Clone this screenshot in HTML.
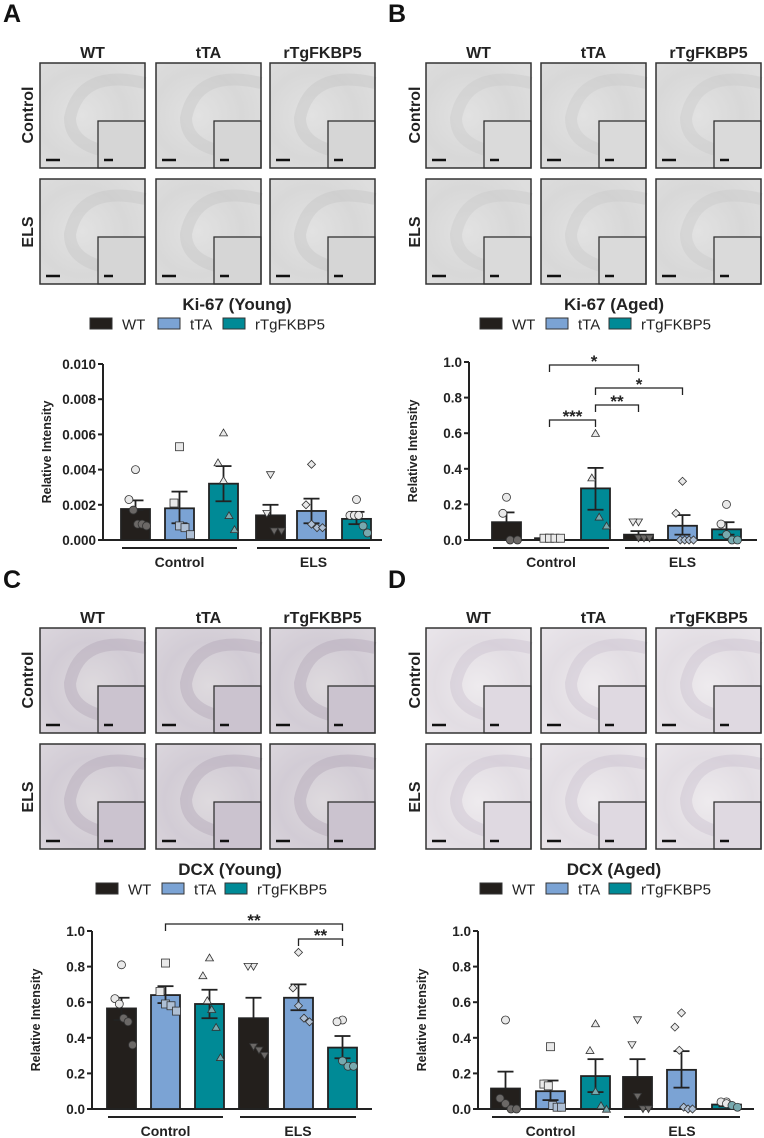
<!DOCTYPE html>
<html><head><meta charset="utf-8">
<style>
html,body{margin:0;padding:0;background:#fff;}
svg{display:block;font-family:"Liberation Sans",Arial,sans-serif;}
</style></head>
<body>
<svg id="fig" xmlns="http://www.w3.org/2000/svg" width="764" height="1138" viewBox="0 0 764 1138">
<defs>
<radialGradient id="gKi" cx="0.4" cy="0.5" r="0.7"><stop offset="0" stop-color="#e2e2e2"/><stop offset="0.6" stop-color="#d8d8d8"/><stop offset="1" stop-color="#dedede"/></radialGradient>
<radialGradient id="gDc" cx="0.5" cy="0.55" r="0.7"><stop offset="0" stop-color="#dedade"/><stop offset="0.6" stop-color="#d2ccd5"/><stop offset="1" stop-color="#dad5dc"/></radialGradient>
<radialGradient id="gDa" cx="0.5" cy="0.55" r="0.7"><stop offset="0" stop-color="#eeebee"/><stop offset="0.6" stop-color="#e2dde3"/><stop offset="1" stop-color="#e9e5ea"/></radialGradient>
</defs>
<g id="root"></g>
</svg>
<script>
// ---------- Chart data ----------
// Panel A: Ki-67 (Young)
const aMeans = [0.00176, 0.0018, 0.0032, 0.0014, 0.00165, 0.0012];
const aErrLo = [0.0017, 0.00095, 0.0022, 0.0014, 0.00095, 0.0009];
const aErrHi = [0.00225, 0.00275, 0.0042, 0.002, 0.00235, 0.0016];
const aPts0 = [0.004, 0.0023, 0.0017, 0.0009, 0.0009, 0.0008];
const aPts1 = [0.0053, 0.0021, 0.0008, 0.0007, 0.0003];
const aPts2 = [0.0061, 0.0044, 0.0034, 0.0014, 0.0006];
const aPts3 = [0.0037, 0.0015, 0.0005, 0.0005];
const aPts4 = [0.0043, 0.002, 0.0009, 0.0007, 0.0007];
const aPts5 = [0.0023, 0.0014, 0.0014, 0.0014, 0.0008, 0.0004];
const aTicks = ["0.000","0.002","0.004","0.006","0.008","0.010"];
// Panel B: Ki-67 (Aged)
const bMeans = [0.10, 0.01, 0.29, 0.03, 0.08, 0.06];
const bErrLo = [0.10, 0.01, 0.17, 0.03, 0.03, 0.03];
const bErrHi = [0.155, 0.012, 0.405, 0.05, 0.14, 0.10];
const bPts0 = [0.24, 0.15, 0.0, 0.0];
const bPts1 = [0.01, 0.01, 0.01, 0.01, 0.01];
const bPts2 = [0.6, 0.35, 0.13, 0.08];
const bPts3 = [0.10, 0.10, 0.01, 0.01, 0.01];
const bPts4 = [0.33, 0.15, 0.0, 0.0, 0.0, 0.0];
const bPts5 = [0.2, 0.09, 0.03, 0.0, 0.0];
const bTicks = ["0.0","0.2","0.4","0.6","0.8","1.0"];
// Panel C: DCX (Young)
const cMeans = [0.565, 0.64, 0.59, 0.51, 0.625, 0.345];
const cErrLo = [0.50, 0.595, 0.51, 0.51, 0.555, 0.285];
const cErrHi = [0.625, 0.69, 0.67, 0.625, 0.70, 0.41];
const cPts0 = [0.81, 0.62, 0.59, 0.51, 0.49, 0.36];
const cPts1 = [0.82, 0.66, 0.59, 0.58, 0.55];
const cPts2 = [0.85, 0.75, 0.61, 0.56, 0.46, 0.29];
const cPts3 = [0.80, 0.80, 0.35, 0.33, 0.30];
const cPts4 = [0.88, 0.68, 0.58, 0.51, 0.49];
const cPts5 = [0.50, 0.49, 0.27, 0.24, 0.24];
// Panel D: DCX (Aged)
const dMeans = [0.115, 0.10, 0.185, 0.18, 0.22, 0.025];
const dErrLo = [0.115, 0.05, 0.095, 0.18, 0.12, 0.015];
const dErrHi = [0.21, 0.16, 0.28, 0.28, 0.325, 0.035];
const dPts0 = [0.5, 0.06, 0.03, 0.0, 0.0];
const dPts1 = [0.35, 0.14, 0.13, 0.02, 0.01, 0.01];
const dPts2 = [0.48, 0.33, 0.10, 0.02, 0.0];
const dPts3 = [0.5, 0.36, 0.07, 0.0, 0.0];
const dPts4 = [0.54, 0.46, 0.33, 0.01, 0.0, 0.0];
const dPts5 = [0.04, 0.04, 0.03, 0.02, 0.01];
const genotypes = ["WT","tTA","rTgFKBP5"];
const groups = ["Control","ELS"];

const NS="http://www.w3.org/2000/svg";
const root=document.getElementById('root');
function mk(tag,attrs,parent,text){const e=document.createElementNS(NS,tag);for(const k in attrs)e.setAttribute(k,attrs[k]);if(text!==undefined)e.textContent=text;(parent||root).appendChild(e);return e;}

const fills=["#231f1c","#7ba3d4","#008a96"];
const inFill=["#6b6866","#aebfd4","#77a9ae"];
const shapes=["circle","square","tri","tri","diamond","circle"];
const triDown=[false,false,false,true,false,false];

function marker(g,shape,down,cx,cy,fill){
  const s=4;
  let e;
  if(shape==="circle") e=mk('circle',{cx:cx,cy:cy,r:s,fill:fill,stroke:'#333','stroke-width':0.8},g);
  else if(shape==="square") e=mk('rect',{x:cx-s,y:cy-s,width:2*s,height:2*s,fill:fill,stroke:'#333','stroke-width':0.8},g);
  else if(shape==="diamond") e=mk('polygon',{points:`${cx},${cy-s} ${cx+s},${cy} ${cx},${cy+s} ${cx-s},${cy}`,fill:fill,stroke:'#333','stroke-width':0.8},g);
  else { const p= down?`${cx-s},${cy-s*0.8} ${cx+s},${cy-s*0.8} ${cx},${cy+s*0.9}`:`${cx-s},${cy+s*0.8} ${cx+s},${cy+s*0.8} ${cx},${cy-s*0.9}`;
    e=mk('polygon',{points:p,fill:fill,stroke:'#333','stroke-width':0.8},g);}
  
  
}

function chart(cfg){
  const g=mk('g',{},root);
  
  
  const y=v=>cfg.y0-(v/cfg.max)*(cfg.y0-cfg.yTop);
  const ax=mk('line',{x1:cfg.ax,y1:cfg.yTop,x2:cfg.ax,y2:cfg.y0,stroke:'#222','stroke-width':2},g);
  
  const xa=mk('line',{x1:cfg.ax,y1:cfg.y0,x2:cfg.axEnd,y2:cfg.y0,stroke:'#222','stroke-width':2},g);
  
  cfg.ticks.forEach((t,i)=>{
    const v=cfg.max*i/(cfg.ticks.length-1);
    mk('line',{x1:cfg.ax-5,y1:y(v),x2:cfg.ax,y2:y(v),stroke:'#222','stroke-width':2},g);
    const tl=mk('text',{x:cfg.ax-7,y:y(v)+5,'text-anchor':'end','font-size':13.5,'font-weight':'bold',fill:'#222'},g,t);
    
  });
  const yt=mk('text',{x:0,y:0,transform:`translate(${cfg.ax-52},${(cfg.y0+cfg.yTop)/2}) rotate(-90)`,'text-anchor':'middle','font-size':12.5,'font-weight':'bold',fill:'#222'},g,'Relative Intensity');
  
  cfg.means.forEach((m,i)=>{
    const x0=cfg.barX[i], w=29, cx=x0+w/2, gi=i%3;
    const b=mk('rect',{x:x0,y:y(m),width:w,height:cfg.y0-y(m),fill:fills[gi],stroke:'#222','stroke-width':1.8},g);
    
    
    const lo=cfg.lo[i],hi=cfg.hi[i];
    mk('line',{x1:cx,y1:y(lo),x2:cx,y2:y(hi),stroke:'#222','stroke-width':1.8},g);
    mk('line',{x1:cx-8,y1:y(hi),x2:cx+8,y2:y(hi),stroke:'#222','stroke-width':1.8},g);
    if(lo<m) mk('line',{x1:cx-8,y1:y(lo),x2:cx+8,y2:y(lo),stroke:'#222','stroke-width':1.8},g);
    const pts=cfg.pts[i], n=pts.length;
    pts.forEach((p,k)=>{
      const off=n>1?(-11+22*k/(n-1)):0;
      const jx=(k===0)?0:off;
      marker(g,shapes[i],triDown[i],cx+jx,y(p),p<m?inFill[gi]:'#e9e9e9');
    });
  });
  [[0,2],[3,5]].forEach((r,j)=>{
    const x1=cfg.barX[r[0]]+1,x2=cfg.barX[r[1]]+28;
    const l=mk('line',{x1:x1,y1:cfg.y0+8,x2:x2,y2:cfg.y0+8,stroke:'#222','stroke-width':2},g);
    
    const t=mk('text',{x:(x1+x2)/2,y:cfg.y0+27,'text-anchor':'middle','font-size':14,'font-weight':'bold',fill:'#222'},g,groups[j]);
    
  });
  (cfg.sig||[]).forEach(s=>{
    const xa_=cfg.barX[s.a]+14.5, xb=cfg.barX[s.b]+14.5;
    const p=mk('path',{d:`M${xa_},${s.y+7}V${s.y}H${xb}V${s.y+7}`,fill:'none',stroke:'#222','stroke-width':1.3},g);
    
    const t=mk('text',{x:(xa_+xb)/2,y:s.y+2,'text-anchor':'middle','font-size':17,'font-weight':'bold',fill:'#222'},g,s.t);
    
  });
}

function micro(x,y,grad,band,cls){
  const g=mk('g',{},root);
  
  mk('rect',{x:x,y:y,width:105,height:105,fill:`url(#${grad})`},g);
  mk('path',{d:`M${x+105},${y+20} Q${x+40},${y+5} ${x+30},${y+55} Q${x+30},${y+92} ${x+105},${y+92}`,fill:'none',stroke:band,'stroke-width':12,opacity:0.4},g);
  mk('rect',{x:x+58,y:y+58,width:47,height:47,fill:cls,stroke:'#333','stroke-width':1.3},g);
  mk('rect',{x:x,y:y,width:105,height:105,fill:'none',stroke:'#333','stroke-width':1.5},g);
  mk('line',{x1:x+6,y1:y+97,x2:x+20,y2:y+97,stroke:'#111','stroke-width':2.5},g);
  mk('line',{x1:x+64,y1:y+97,x2:x+73,y2:y+97,stroke:'#111','stroke-width':2.5},g);
}

function panel(P){
  const L=mk('text',{x:P.lx,y:P.ly,'font-size':25,'font-weight':'bold',fill:'#111'},root,P.letter);
  
  const h=mk('text',{x:P.hx,y:P.oy+28,'text-anchor':'middle','font-size':17.5,'font-weight':'bold',fill:'#222'},root,P.age);
  
  P.cols.forEach((cx,i)=>{
    const t=mk('text',{x:cx+52.5,y:P.oy+58,'text-anchor':'middle','font-size':16,'font-weight':'bold',fill:'#222'},root,genotypes[i]);
    
    micro(cx,P.oy+63,P.grad,P.band,P.inset);
    micro(cx,P.oy+179,P.grad,P.band,P.inset);
  });
  [['Control',P.oy+115],['ELS',P.oy+232]].forEach(r=>{
    const t=mk('text',{x:0,y:0,transform:`translate(${P.rx},${r[1]}) rotate(-90)`,'text-anchor':'middle','font-size':16,'font-weight':'bold',fill:'#222'},root,r[0]);
    
  });
  const ti=mk('text',{x:P.tx,y:P.oy+310,'text-anchor':'middle','font-size':17,'font-weight':'bold',fill:'#222'},root,P.title);
  
  P.leg.forEach((lx,i)=>{
    const s=mk('rect',{x:lx,y:P.oy+318,width:22,height:11,fill:fills[i],stroke:'#333','stroke-width':1},root);
    
    const t=mk('text',{x:lx+32,y:P.oy+329.5,'font-size':15,fill:'#222'},root,genotypes[i]);
    
  });
}
const colsA=[40,156,270], colsB=[426,541,656];
panel({letter:'A',lx:3,ly:22,hx:190,oy:0,cols:colsA,rx:33,grad:'gKi',band:'#c4c4c4',inset:'#d6d6d6',title:'Ki-67 (Young)',tx:237,leg:[90,158,223]});
panel({letter:'B',lx:388,ly:22,hx:592,oy:0,cols:colsB,rx:420,grad:'gKi',band:'#c8c8c8',inset:'#dadada',title:'Ki-67 (Aged)',tx:614,leg:[480,546,609]});
panel({letter:'C',lx:3,ly:588,hx:190,oy:565,cols:colsA,rx:33,grad:'gDc',band:'#aea2b4',inset:'#cbc3cf',title:'DCX (Young)',tx:230,leg:[96,162,225]});
panel({letter:'D',lx:388,ly:588,hx:592,oy:565,cols:colsB,rx:420,grad:'gDa',band:'#c8bfcc',inset:'#dfd9e1',title:'DCX (Aged)',tx:614,leg:[480,546,609]});

chart({name:'chart-ki67-young',ax:103,axEnd:382,yTop:364,y0:540,max:0.010,ticks:aTicks,
  barX:[121,165,209,256,297,342],means:aMeans,lo:aErrLo,hi:aErrHi,pts:[aPts0,aPts1,aPts2,aPts3,aPts4,aPts5]});
chart({name:'chart-ki67-aged',ax:469,axEnd:757,yTop:362,y0:540,max:1.0,ticks:bTicks,
  barX:[492,535,581,624,668,712],means:bMeans,lo:bErrLo,hi:bErrHi,pts:[bPts0,bPts1,bPts2,bPts3,bPts4,bPts5],
  sig:[{a:1,b:3,y:365,t:'*'},{a:2,b:4,y:388,t:'*'},{a:2,b:3,y:405,t:'**'},{a:1,b:2,y:420,t:'***'}]});
chart({name:'chart-dcx-young',ax:92,axEnd:372,yTop:931,y0:1109,max:1.0,ticks:bTicks,
  barX:[107,151,195,239,284,328],means:cMeans,lo:cErrLo,hi:cErrHi,pts:[cPts0,cPts1,cPts2,cPts3,cPts4,cPts5],
  sig:[{a:1,b:5,y:924,t:'**'},{a:4,b:5,y:939,t:'**'}]});
chart({name:'chart-dcx-aged',ax:478,axEnd:754,yTop:931,y0:1109,max:1.0,ticks:bTicks,
  barX:[491,536,581,623,667,712],means:dMeans,lo:dErrLo,hi:dErrHi,pts:[dPts0,dPts1,dPts2,dPts3,dPts4,dPts5]});
</script>
</body></html>
